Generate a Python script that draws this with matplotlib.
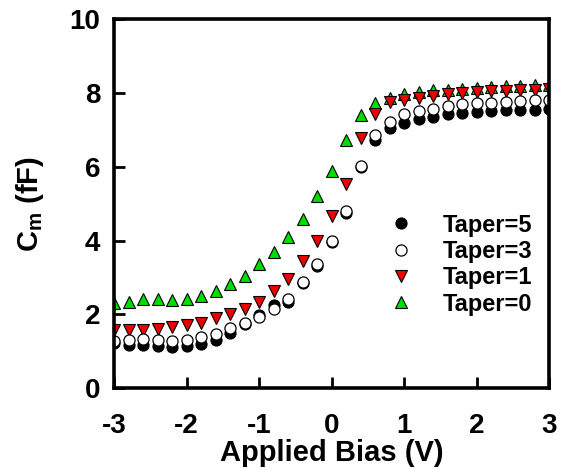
import numpy as np
import matplotlib
matplotlib.use("Agg")
import matplotlib.pyplot as plt

plt.rcParams["font.family"] = ["Liberation Sans", "DejaVu Sans"]
plt.rcParams["font.weight"] = "bold"
plt.rcParams["axes.unicode_minus"] = False
plt.rcParams["mathtext.fontset"] = "custom"
plt.rcParams["mathtext.bf"] = "Liberation Sans:bold"
plt.rcParams["mathtext.rm"] = "Liberation Sans:bold"

# applied bias, -3 .. 3 V in 0.2 V steps
bias = [-3.0, -2.8, -2.6, -2.4, -2.2, -2.0, -1.8, -1.6, -1.4, -1.2, -1.0,
        -0.8, -0.6, -0.4, -0.2, 0.0, 0.2, 0.4, 0.6, 0.8, 1.0,
        1.2, 1.4, 1.6, 1.8, 2.0, 2.2, 2.4, 2.6, 2.8, 3.0]

taper5 = [1.22, 1.18, 1.16, 1.15, 1.13, 1.15, 1.21, 1.30, 1.50, 1.73, 1.98,
          2.26, 2.35, 2.84, 3.30, 3.95, 4.76, 6.00, 6.74, 7.06, 7.19,
          7.31, 7.36, 7.42, 7.45, 7.48, 7.51, 7.53, 7.54, 7.55, 7.57]
taper3 = [1.28, 1.30, 1.34, 1.32, 1.29, 1.30, 1.39, 1.47, 1.62, 1.76, 1.94,
          2.14, 2.41, 2.89, 3.36, 4.00, 4.80, 6.01, 6.85, 7.21, 7.42,
          7.51, 7.58, 7.64, 7.69, 7.72, 7.74, 7.76, 7.78, 7.80, 7.81]
taper1 = [1.58, 1.57, 1.57, 1.60, 1.66, 1.70, 1.78, 1.89, 2.00, 2.16, 2.35,
          2.64, 2.95, 3.45, 4.00, 4.66, 5.54, 6.77, 7.44, 7.76, 7.81,
          7.87, 7.93, 7.97, 8.01, 8.03, 8.05, 8.06, 8.07, 8.08, 8.10]
taper0 = [2.32, 2.35, 2.42, 2.42, 2.39, 2.43, 2.50, 2.64, 2.82, 3.05, 3.36,
          3.70, 4.11, 4.60, 5.20, 5.90, 6.72, 7.40, 7.73, 7.86, 7.97,
          8.03, 8.07, 8.08, 8.12, 8.15, 8.16, 8.18, 8.19, 8.21, 8.22]

fig = plt.figure(figsize=(5.65, 4.7), dpi=100)
ax = fig.add_axes([0.202, 0.174, 0.770, 0.785])

ms = 8
ax.plot(bias, taper0, "^", ms=ms, mfc="#00dd00", mec="black", mew=0.8, ls="none", label="Taper=0")
ax.plot(bias, taper1, "v", ms=ms, mfc="#ee0000", mec="black", mew=0.8, ls="none", label="Taper=1")
ax.plot(bias, taper3, "o", ms=ms, mfc="white", mec="black", mew=0.9, ls="none", label="Taper=3")
ax.plot(bias, taper5, "o", ms=ms, mfc="black", mec="black", mew=0.8, ls="none", label="Taper=5", zorder=1.9)

ax.set_xlim(-3, 3)
ax.set_ylim(0, 10)
ax.set_xticks(range(-3, 4))
ax.set_yticks(range(0, 11, 2))
ax.tick_params(direction="in", length=8, width=2, labelsize=20, top=False, right=False)
ax.tick_params(axis="x", pad=18)
ax.tick_params(axis="y", pad=10)
for s in ax.spines.values():
    s.set_linewidth(2.6)

ax.set_xlabel("Applied Bias (V)", fontsize=21, fontweight="bold", labelpad=0)
ax.set_ylabel(r"C$_\mathbf{m}$ (fF)", fontsize=21, fontweight="bold", labelpad=17)

h, l = ax.get_legend_handles_labels()
order = [3, 2, 1, 0]
ax.legend([h[i] for i in order], [l[i] for i in order], loc="lower right",
          bbox_to_anchor=(1.0, 0.152), frameon=False, fontsize=17,
          handletextpad=1.0, handlelength=1.6, labelspacing=0.14, borderaxespad=0.3)

fig.savefig("out.png", dpi=100, facecolor="white")
